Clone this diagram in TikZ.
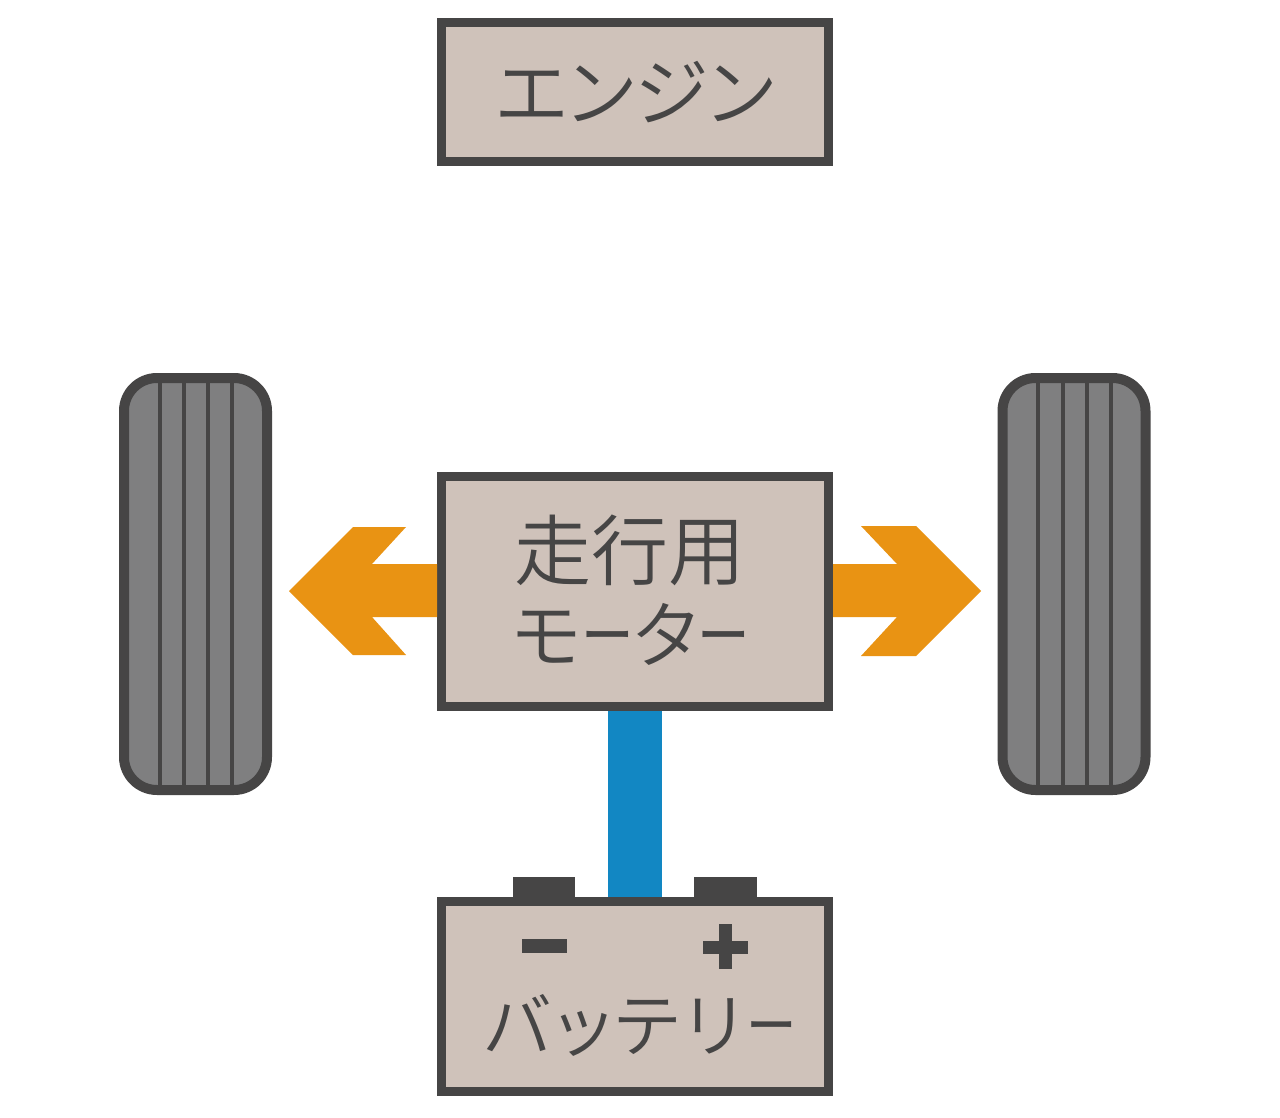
\documentclass[tikz,border=0pt]{standalone}
\usepackage{fontspec}
\newfontfamily\jp[RawFeature=+palt]{Noto Sans CJK JP DemiLight}
\newfontfamily\jpk{Noto Sans CJK JP DemiLight}
\newcommand\shortbar{\scalebox{.72}[1]{ー}}
\definecolor{ink}{HTML}{464545}
\definecolor{boxfill}{HTML}{CFC2BA}
\definecolor{treadfill}{HTML}{7F7F80}
\definecolor{drive}{HTML}{E99313}
\definecolor{bus}{HTML}{1287C3}
\tikzset{
  unitbox/.style={draw=ink,fill=boxfill,line width=9pt,minimum width=387pt,inner sep=0pt},
  tire/.style={draw=ink,fill=treadfill,line width=10pt,rounded corners=33pt,minimum width=143pt,minimum height=412pt,inner sep=0pt},
  groove/.style={draw=ink,line width=3.8pt},
  drivearrow/.style={fill=drive},
  busbar/.style={draw=bus,line width=54pt},
  terminal/.style={fill=ink},
  label/.style={text=ink,font=\jp\fontsize{75pt}{75pt}\selectfont,inner sep=0pt}
}
\begin{document}
\begin{tikzpicture}[x=1pt,y=-1pt]
\useasboundingbox (0,0) rectangle (1280,1118);
\fill[white] (0,0) rectangle (1280,1118);
% boxes
\node[unitbox,minimum height=139pt] (engine) at (635,92) {};
\node[unitbox,minimum height=230pt] (motor) at (635,591.5) {};
\node[unitbox,minimum height=190pt] (battery) at (635,996.5) {};
\node[label] (engineL) at (635,92) {エンジン};
\node[label,font=\jpk\fontsize{77pt}{77pt}\selectfont] (motorA) at (629.5,550) {走行用};
\node[label,font=\jp\fontsize{73pt}{73pt}\selectfont] (motorB) at (631,634) {モ\shortbar タ\shortbar};
\node[label,font=\jp\fontsize{70pt}{70pt}\selectfont] (batteryL) at (640.5,1025) {バ\kern5ptッ\kern5ptテ\kern5ptリ\kern5pt\shortbar};
% tires
\node[tire] (tireL) at (195.5,584) {};
\node[tire] (tireR) at (1074,584) {};
\foreach \g in {-35.5,-11.5,12.5,36.5}{
  \draw[groove] ([xshift=\g pt]tireL.north) -- ([xshift=\g pt]tireL.south);
}
\foreach \g in {-36,-11,13,37}{
  \draw[groove] ([xshift=\g pt]tireR.north) -- ([xshift=\g pt]tireR.south);
}
% arrows
\fill[drivearrow] (motor.west) ++(0,-27.5) -- ++(-65,0) -- (406,527) -- (353,527) -- (289,591) -- (353,655) -- (406,655) -- (372,617) -- (motor.west |- 0,617) -- cycle;
\fill[drivearrow] (motor.east) ++(0,-27.5) -- ++(64,0) -- (861,526) -- (916,526) -- (981,591) -- (916,656) -- (861,656) -- (897,617) -- (motor.east |- 0,617) -- cycle;
% bus bar
\draw[busbar] (motor.south) -- (battery.north);
% terminals
\fill[terminal] (513,877) rectangle (575,898);
\fill[terminal] (694,877) rectangle (757,898);
\fill[terminal] (522,939) rectangle (567,953);
\fill[terminal] (703,940.5) rectangle (748,953.5);
\fill[terminal] (719,924) rectangle (732,969);
\end{tikzpicture}
\end{document}
